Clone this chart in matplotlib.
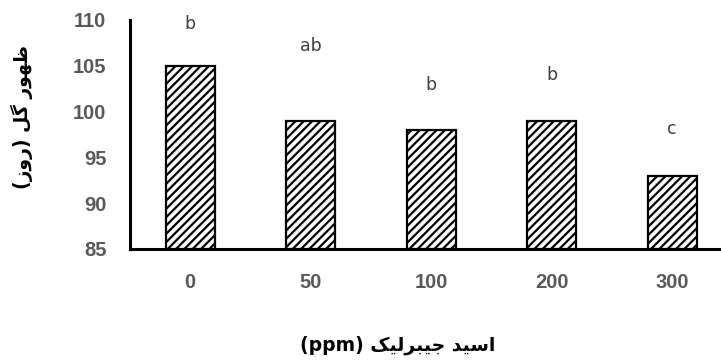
import matplotlib
matplotlib.use("Agg")
import matplotlib.pyplot as plt

categories = ["0", "50", "100", "200", "300"]
values = [105, 99, 98, 99, 93]
letters = ["b", "ab", "b", "b", "c"]
letter_y = [109.6, 107.2, 102.9, 104.0, 98.1]
yticks = [85, 90, 95, 100, 105, 110]

# Arabic/Persian labels written in visual order with presentation forms
ylabel_txt = "(\uFEAF\uFEED\uFEAD) \uFEDE\uFB94 \uFEAD\uFEEE\uFEEC\uFEC7"
xlabel_txt = "(ppm) \uFB8F\uFBFF\uFEDF\uFEAE\uFE92\uFBFF\uFE9F \uFEAA\uFBFF\uFEB3\uFE8D"

plt.rcParams['hatch.linewidth'] = 1.6
plt.rcParams['hatch.color'] = '#222222'

fig = plt.figure(figsize=(7.21, 3.63), dpi=100)
ax = fig.add_axes([130/721, 114/363, 591/721, 229/363])

x = list(range(len(categories)))
ax.bar(x, [v - 85 for v in values], bottom=85, width=0.41, color="white",
       edgecolor="black", linewidth=1.6, hatch="////", zorder=2)

for xi, lt, ly in zip(x, letters, letter_y):
    ax.text(xi, ly, lt, ha="center", va="center", fontsize=12.5,
            color="#404040", family="DejaVu Sans")

ax.set_xlim(-0.5, 4.405)
ax.set_ylim(85, 110)
ax.set_yticks(yticks)
ax.set_xticks(x)
ax.set_xticklabels(categories)
for lab in ax.get_xticklabels() + ax.get_yticklabels():
    lab.set_fontweight("bold")
    lab.set_color("#595959")
    lab.set_fontsize(14.5)
    lab.set_family("Liberation Sans")
ax.tick_params(axis="both", length=0)
ax.tick_params(axis="y", pad=17)
ax.tick_params(axis="x", pad=17)

for s in ["top", "right"]:
    ax.spines[s].set_visible(False)
for s in ["left", "bottom"]:
    ax.spines[s].set_linewidth(2.2)
    ax.spines[s].set_color("black")

fig.text(22/721, (363-117)/363, ylabel_txt, rotation=90, ha="center", va="center",
         fontsize=13.5, fontweight="bold", family=["DejaVu Sans"])
fig.text(398/721, (363-345)/363, xlabel_txt, ha="center", va="center",
         fontsize=13.5, fontweight="bold", family=["DejaVu Sans"])

fig.savefig("out.png", dpi=100)
